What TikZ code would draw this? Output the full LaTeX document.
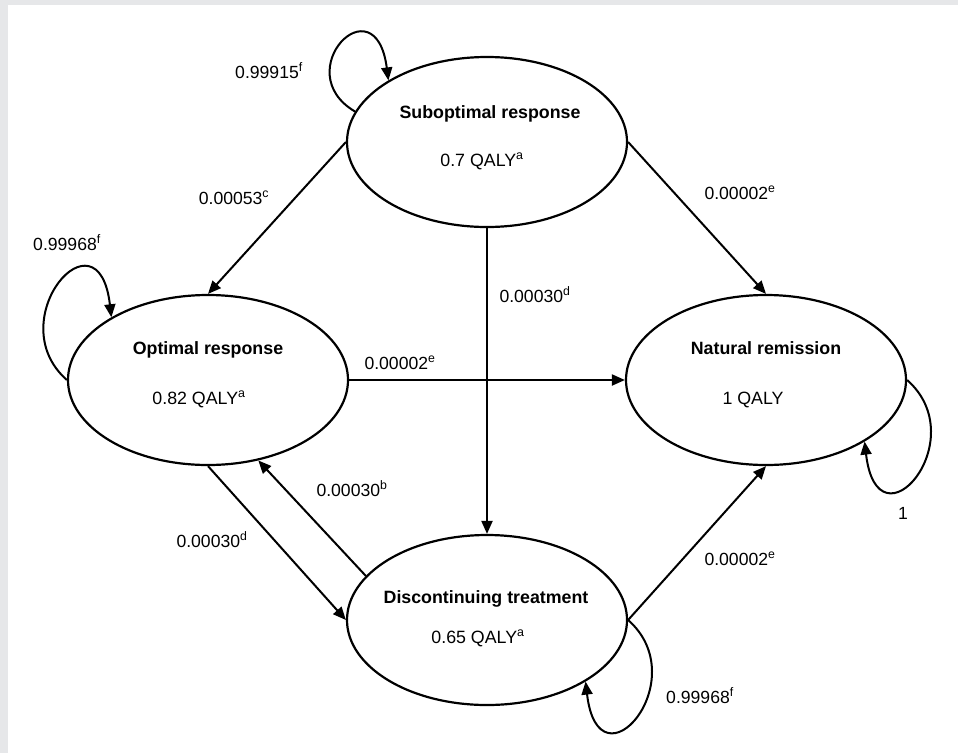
\documentclass[tikz,border=0pt]{standalone}
\usepackage{fontspec}
\setmainfont{Liberation Sans}
\usetikzlibrary{shapes.geometric,arrows.meta}
\definecolor{framegray}{RGB}{230,231,233}
\tikzset{
	state/.style={ellipse, draw, line width=2.2pt, minimum width=280pt,
		minimum height=170pt, inner sep=0pt},
	title/.style={font=\fontsize{17.8pt}{20pt}\selectfont\bfseries, anchor=base},
	qaly/.style={font=\fontsize{17.8pt}{20pt}\selectfont, anchor=base},
	prob/.style={font=\fontsize{17.6pt}{20pt}\selectfont, anchor=base},
	trans/.style={line width=2pt, -{Triangle[length=13pt,width=11pt]}}
}
\begin{document}
\begin{tikzpicture}[x=1pt,y=-1pt]
		\fill[framegray] (0,0) rectangle (958,753);
		\fill[white] (8,5) rectangle (958,753);
		\useasboundingbox (0,0) rectangle (958,753);

		\node[state] (sub)  at (487,142) {};
		\node[state] (opt)  at (208,380) {};
		\node[state] (nat)  at (766,380) {};
		\node[state] (disc) at (487,620) {};

		\node[title] (subT)  at (490,118) {Suboptimal response};
		\node[qaly]  (subQ)  at (482,166) {0.7 QALY\textsuperscript{a}};
		\node[title] (optT)  at (208,354) {Optimal response};
		\node[qaly]  (optQ)  at (199,404) {0.82 QALY\textsuperscript{a}};
		\node[title] (natT)  at (766,354) {Natural remission};
		\node[qaly]  (natQ)  at (753,404) {1 QALY};
		\node[title] (discT) at (486,603) {Discontinuing treatment};
		\node[qaly]  (discQ) at (478,643) {0.65 QALY\textsuperscript{a}};

		\draw[trans] (sub.west) -- (opt.north);
		\draw[trans] (sub.east) -- (nat.north);
		\draw[trans] (sub.south) -- (disc.north);
		\draw[trans] (opt.east) -- (nat.west);
		\draw[trans] (opt.south) -- (disc.west);
		\draw[trans] (disc.160) -- (opt.302);
		\draw[trans] (disc.east) -- (nat.south);

		\draw[trans] (sub.167) .. controls +(-68,-40) and +(-13,-100) .. (sub.148);
		\draw[trans] (opt.west) .. controls +(-68,-60) and +(-13,-112) .. (opt.147);
		\draw[trans] (nat.east) .. controls +(68,60) and +(13,112) .. (nat.-32);
		\draw[trans] (disc.east) .. controls +(68,60) and +(13,112) .. (disc.-32);

		\node[prob] (pSubSelf)  at (269,78)  {0.99915\textsuperscript{f}};
		\node[prob] (pSubOpt)   at (234,204) {0.00053\textsuperscript{c}};
		\node[prob] (pOptSelf)  at (67,250)  {0.99968\textsuperscript{f}};
		\node[prob] (pSubNat)   at (740,199) {0.00002\textsuperscript{e}};
		\node[prob] (pSubDisc)  at (535,302) {0.00030\textsuperscript{d}};
		\node[prob] (pOptNat)   at (400,369) {0.00002\textsuperscript{e}};
		\node[prob] (pDiscOpt)  at (352,496) {0.00030\textsuperscript{b}};
		\node[prob] (pOptDisc)  at (212,547) {0.00030\textsuperscript{d}};
		\node[prob] (pDiscNat)  at (740,565) {0.00002\textsuperscript{e}};
		\node[prob] (pNatSelf)  at (903,519) {1};
		\node[prob] (pDiscSelf) at (700,703) {0.99968\textsuperscript{f}};
	\end{tikzpicture}
\end{document}
